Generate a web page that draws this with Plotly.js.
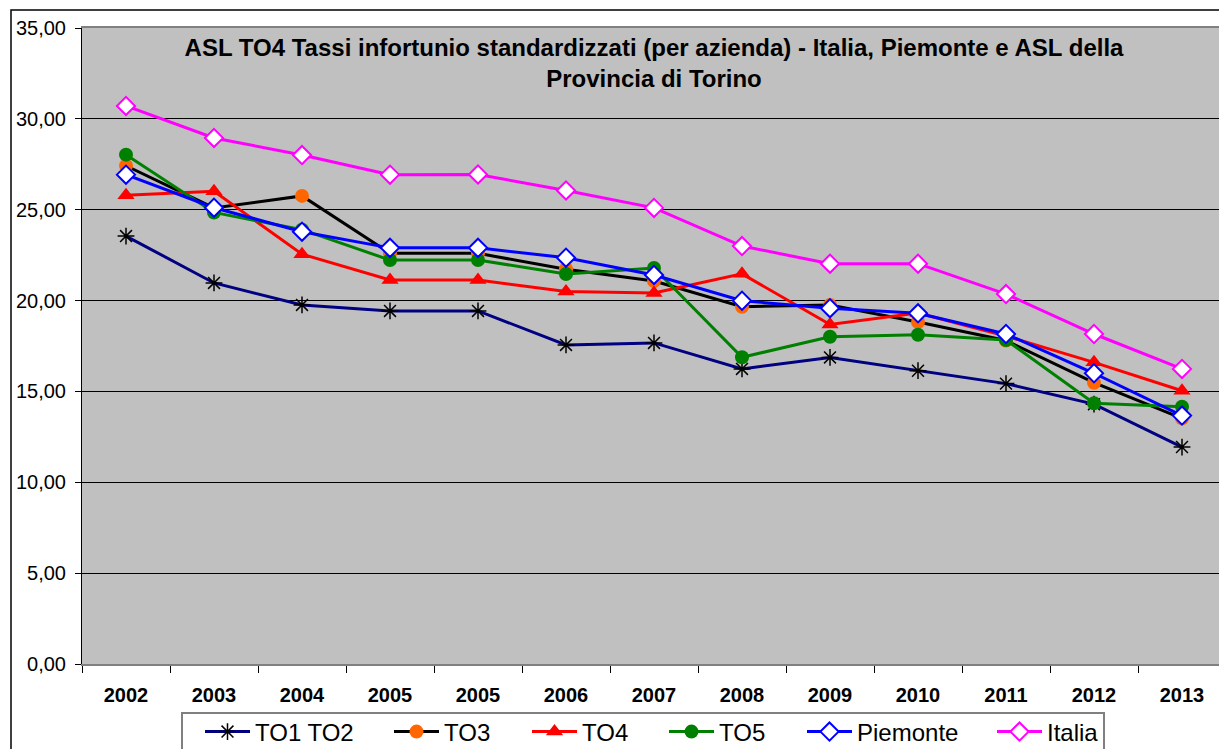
<!DOCTYPE html>
<html>
<head>
<meta charset="utf-8">
<script src="https://cdn.plot.ly/plotly-3.0.1.min.js"></script>
<style>
html,body{margin:0;padding:0;background:#fff;overflow:hidden;width:1219px;height:749px;}
#chart{position:absolute;left:0;top:0;}
</style>
</head>
<body>
<div id="chart"></div>
<script>
const categories = ['2002','2003','2004','2005','2005','2006','2007','2008','2009','2010','2011','2012','2013'];
const to1to2   = [23.55,20.97,19.76,19.43,19.43,17.56,17.67,16.24,16.87,16.14,15.43,14.30,11.94];
const to3      = [27.42,25.10,25.76,22.60,22.60,21.72,21.08,19.66,19.76,18.82,17.80,15.48,13.52];
const to4      = [25.80,26.02,22.55,21.13,21.13,20.50,20.42,21.47,18.68,19.32,18.05,16.60,15.04];
const to5      = [28.03,24.85,23.90,22.23,22.23,21.46,21.79,16.88,18.01,18.12,17.83,14.35,14.16];
const piemonte = [26.93,25.11,23.79,22.90,22.90,22.36,21.41,19.99,19.58,19.30,18.16,16.00,13.67];
const italia   = [30.71,28.95,28.01,26.93,26.94,26.06,25.10,23.00,22.03,22.03,20.36,18.16,16.24];
const seriesNames = ['TO1 TO2','TO3','TO4','TO5','Piemonte','Italia'];
const yTicks = [0,5,10,15,20,25,30,35];

const FONT = 'Liberation Sans, Arial, sans-serif';
const xIdx = categories.map((c,i)=>i);
const boundaries = categories.map((c,i)=>i-0.5).concat([categories.length-0.5]);

// plot-area geometry (pixels)
const L = 82, T = 28, PW = 1144, PH = 636;
const W = 1240, H = 760;
const px2x = p => (p - L) / PW;
const py2y = p => (T + PH - p) / PH;

const legendTextX = [256, 445, 583, 720, 858, 1048];
const legendNames = ['legend','legend2','legend3','legend4','legend5','legend6'];

const traces = [
  {name:seriesNames[0], y:to1to2, line:{color:'#000080',width:3},
   marker:{symbol:'asterisk-open',size:14,color:'#000000',line:{color:'#000000',width:1.5}}},
  {name:seriesNames[1], y:to3, line:{color:'#000000',width:3},
   marker:{symbol:'circle',size:14,color:'#FF6600',line:{width:0}}},
  {name:seriesNames[2], y:to4, line:{color:'#FF0000',width:3},
   marker:{symbol:'triangle-up',size:15,color:'#FF0000',line:{width:0}}},
  {name:seriesNames[3], y:to5, line:{color:'#008000',width:3},
   marker:{symbol:'circle',size:14,color:'#008000',line:{width:0}}},
  {name:seriesNames[4], y:piemonte, line:{color:'#0000FF',width:3},
   marker:{symbol:'diamond',size:14,color:'#FFFFFF',line:{color:'#0000FF',width:2}}},
  {name:seriesNames[5], y:italia, line:{color:'#FF00FF',width:3},
   marker:{symbol:'diamond',size:14,color:'#FFFFFF',line:{color:'#FF00FF',width:2}}}
].map((t,i)=>Object.assign({type:'scatter',mode:'lines+markers',x:xIdx,cliponaxis:false,legend:legendNames[i]},t));

const layout = {
  width: W, height: H,
  margin:{l:L,r:W-L-PW,t:T,b:H-T-PH,pad:0,autoexpand:false},
  paper_bgcolor:'#FFFFFF',
  plot_bgcolor:'#C0C0C0',
  separators:',.',
  font:{family:FONT,color:'#000000'},
  title:{text:'ASL TO4 Tassi infortunio standardizzati (per azienda) - Italia, Piemonte e ASL della<br>Provincia di Torino',
         font:{size:24,family:FONT,color:'#000000',weight:'bold'},
         x:0.5,xref:'paper',xanchor:'center',y:1-56/H,yref:'container',yanchor:'top'},
  xaxis:{range:[-0.5,categories.length-0.5],tickmode:'array',tickvals:xIdx,ticktext:categories,
         ticks:'',showgrid:false,zeroline:false,showline:true,linecolor:'#808080',linewidth:2,mirror:true,
         tickfont:{size:20,weight:'bold',family:FONT},
         ticklabelstandoff:12,
         minor:{tickmode:'array',tickvals:boundaries,ticks:'outside',ticklen:7,tickcolor:'#000000',tickwidth:1,showgrid:false}},
  yaxis:{range:[0,35],tickmode:'array',tickvals:yTicks,tickformat:'.2f',
         ticks:'outside',ticklen:6,tickcolor:'#000000',tickwidth:1,
         showgrid:true,gridcolor:'#000000',gridwidth:1,zeroline:false,
         showline:true,linecolor:'#000000',linewidth:1,
         tickfont:{size:20,family:FONT},ticklabelstandoff:5},
  shapes:[
    {type:'rect',xref:'paper',yref:'paper',x0:px2x(11),x1:1.2,y0:-0.3,y1:py2y(10),
     line:{color:'#000000',width:1.5},fillcolor:'rgba(0,0,0,0)',layer:'below'},
    {type:'rect',xref:'paper',yref:'paper',x0:px2x(182),x1:px2x(1104),y0:py2y(780),y1:py2y(713),
     line:{color:'#808080',width:2},fillcolor:'#FFFFFF',layer:'below'}
  ],
  showlegend:true
};
legendNames.forEach((ln,i)=>{
  layout[ln] = {orientation:'h',x:px2x(legendTextX[i]-56),xanchor:'left',y:py2y(732),yanchor:'middle',
                borderwidth:0,bgcolor:'rgba(0,0,0,0)',itemwidth:45,
                font:{size:24,family:FONT,color:'#000000'}};
});

Plotly.newPlot('chart', traces, layout, {displayModeBar:false,staticPlot:true});
</script>
</body>
</html>
